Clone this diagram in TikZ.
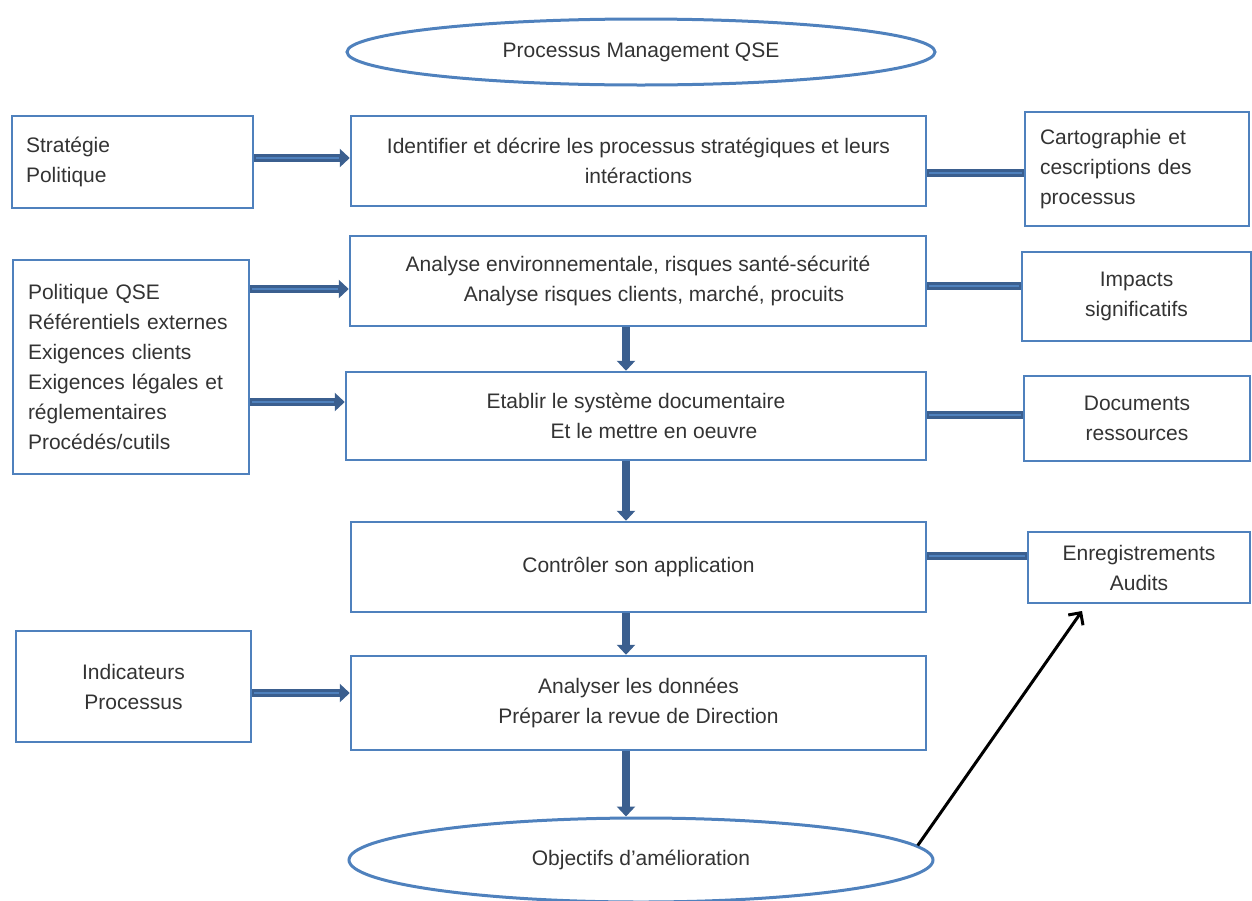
\documentclass[tikz,border=0pt]{standalone}
\usepackage{fontspec}
\setmainfont{Liberation Sans}
\usetikzlibrary{shapes.geometric,arrows.meta,calc}
\definecolor{boxblue}{HTML}{4F81BD}
\definecolor{adark}{HTML}{3B5F8F}
\definecolor{txt}{HTML}{333333}
\begin{document}
\begin{tikzpicture}[x=1pt,y=-1pt,
 every node/.style={font=\fontsize{21}{30}\selectfont, text=txt},
 box/.style={draw=boxblue, line width=2.5pt, inner sep=0pt, align=center},
 lbox/.style={draw=boxblue, line width=2.5pt, inner ysep=0pt, align=left},
 oval/.style={ellipse, draw=boxblue, line width=3pt, inner sep=0pt},
 fat/.style={draw=adark, line width=8pt, -{Triangle[length=10pt,width=18pt]}},
 bar/.style={draw=adark, line width=8pt},
 core/.style={draw=boxblue, line width=2.5pt},
 thin/.style={draw=black, line width=3pt, -{Straight Barb[length=9pt,width=18pt]}},
 ]
\useasboundingbox (0,0) rectangle (1252,900);

% nodes
\node[oval, minimum width=588, minimum height=66] (top) at (641,52) {Processus Management QSE};

\node[lbox, minimum width=241, minimum height=92, inner xsep=14pt, text width=213pt] (l1) at (132.5,162) {Stratégie\\Politique\\[-10pt]};
\node[box, minimum width=575, minimum height=90] (c1) at (638.5,161) {Identifier et décrire les processus stratégiques et leurs\\intéractions};
\node[lbox, minimum width=224, minimum height=114, inner xsep=15pt, text width=194pt] (r1) at (1137,169) {Cartographie et\\cescriptions des\\processus};

\node[box, minimum width=576, minimum height=90] (c2) at (638,281) {Analyse environnementale, risques santé-sécurité\\\hspace*{32pt}Analyse risques clients, marché, procuits};
\node[lbox, minimum width=236, minimum height=214, inner xsep=15pt, text width=206pt] (l2) at (131,367) {Politique QSE\\Référentiels externes\\Exigences clients\\Exigences légales et\\réglementaires\\Procédés/cutils\\[-10pt]};
\node[box, minimum width=229, minimum height=89] (r2) at (1136.5,296.5) {Impacts\\significatifs};

\node[box, minimum width=580, minimum height=88] (c3) at (636,416) {Etablir le système documentaire\\\hspace*{36pt}Et le mettre en oeuvre};
\node[box, minimum width=226, minimum height=85] (r3) at (1137,418.5) {Documents\\ressources};

\node[box, minimum width=575, minimum height=90] (c4) at (638.5,567) {Contrôler son application};
\node[box, minimum width=222, minimum height=71] (r4) at (1139,567.5) {Enregistrements\\Audits};

\node[box, minimum width=235, minimum height=111] (l5) at (133.5,686.5) {Indicateurs\\Processus};
\node[box, minimum width=575, minimum height=94] (c5) at (638.5,703) {Analyser les données\\Préparer la revue de Direction};

\node[oval, minimum width=584, minimum height=84] (bot) at (641,860) {Objectifs d'amélioration};

% helper coordinates
\coordinate (h1) at (0,158);
\coordinate (h1r) at (0,173);
\coordinate (h2) at (0,289);
\coordinate (h2r) at (0,286);
\coordinate (h3) at (0,402);
\coordinate (h3r) at (0,415);
\coordinate (h4r) at (0,556);
\coordinate (h5) at (0,693);
\coordinate (xd) at (626,0);
\coordinate (tipA) at (1082,611);

% left-to-centre arrows
\foreach \a/\b/\h in {l1/c1/h1, l2/c2/h2, l2/c3/h3, l5/c5/h5}{
  \draw[fat] (\a.east |- \h) -- (\b.west |- \h);
  \draw[core, shorten >=11pt, shorten <=2pt] (\a.east |- \h) -- (\b.west |- \h);
}
% centre-to-right bars
\foreach \a/\b/\h in {c1/r1/h1r, c2/r2/h2r, c3/r3/h3r, c4/r4/h4r}{
  \draw[bar] (\a.east |- \h) -- (\b.west |- \h);
  \draw[core, shorten >=2pt, shorten <=2pt] (\a.east |- \h) -- (\b.west |- \h);
}
% downward arrows
\draw[fat] (c2.south -| xd) -- (c3.north -| xd);
\draw[fat] (c3.south -| xd) -- (c4.north -| xd);
\draw[fat] (c4.south -| xd) -- (c5.north -| xd);
\draw[fat] (c5.south -| xd) -- (bot.north -| xd);

% feedback arrow
\draw[thin] (bot.3) -- (tipA);
\end{tikzpicture}
\end{document}
